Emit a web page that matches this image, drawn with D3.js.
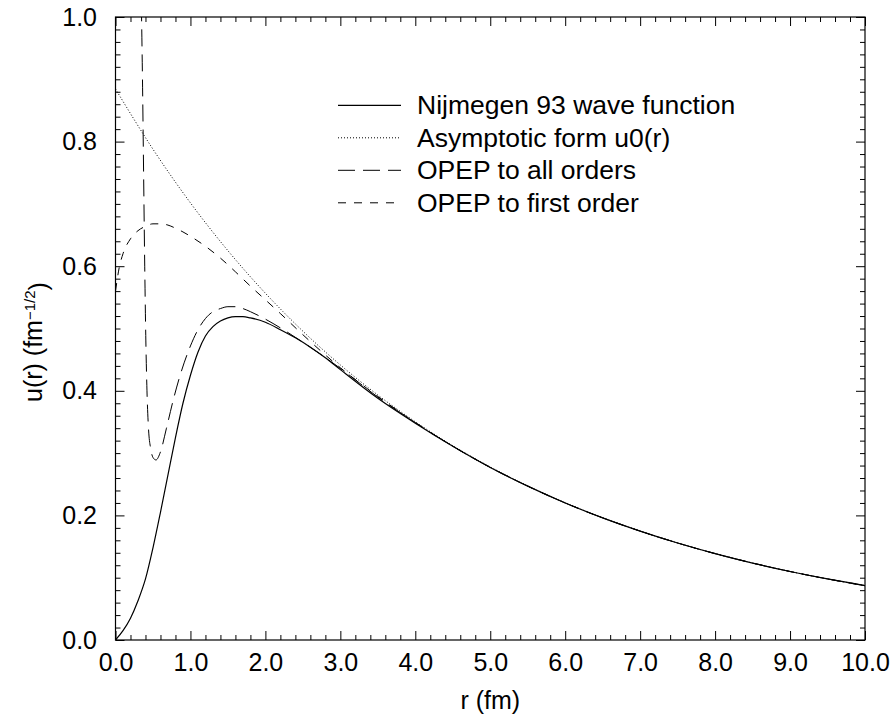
<!DOCTYPE html>
<html>
<head>
<meta charset="utf-8">
<script src="https://cdn.jsdelivr.net/npm/d3@7"></script>
<style>
  html, body { margin: 0; padding: 0; background: #fff; }
  svg { display: block; }
  text { font-family: "Liberation Sans", Arial, Helvetica, sans-serif; fill: #000; }
</style>
</head>
<body>
<svg id="chart" width="895" height="717"></svg>
<script>
// ---- data ----
const nijmegenR = [0,0.1,0.2,0.3,0.4,0.5,0.6,0.7,0.8,0.9,1.0,1.1,1.2,1.3,1.4,1.5,1.6,1.7,1.8,2.0,2.2,2.4,2.6,2.8,3.0,3.5,4.0,4.5,5.0,5.5,6.0,6.5,7.0,7.5,8.0,8.5,9.0,9.5,10.0];
const nijmegenU = [0,0.015,0.035,0.063,0.098,0.148,0.205,0.265,0.325,0.38,0.425,0.462,0.488,0.503,0.512,0.517,0.519,0.519,0.517,0.510,0.498,0.485,0.470,0.453,0.434,0.388,0.348,0.311,0.277,0.247,0.220,0.196,0.1748,0.1557,0.1387,0.1235,0.1100,0.098,0.0873];

const asymR = [0,0.5,1.0,1.5,2.0,2.5,3.0,3.5,4.0,4.5,5.0,5.5,6.0,6.5,7.0,7.5,8.0,8.5,9.0,9.5,10.0];
const asymU = [0.8845,0.7878,0.7016,0.6249,0.5566,0.4957,0.4415,0.3932,0.3503,0.3119,0.2778,0.2474,0.2204,0.1963,0.1748,0.1557,0.1387,0.1235,0.1100,0.0980,0.0873];

const allOrdersR = [0.345,0.36,0.375,0.39,0.405,0.42,0.44,0.47,0.50,0.54,0.60,0.68,0.77,0.85,1.0,1.1,1.2,1.3,1.4,1.5,1.6,1.7,1.8,2.0,2.2,2.5,3.0,3.5,4.0,4.5,5.0,5.5,6.0,6.5,7.0,7.5,8.0,8.5,9.0,9.5,10.0];
const allOrdersU = [1.02,0.9,0.75,0.6,0.48,0.4,0.34,0.307,0.293,0.289,0.302,0.34,0.385,0.42,0.472,0.498,0.516,0.527,0.532,0.535,0.535,0.532,0.527,0.515,0.501,0.478,0.436,0.390,0.349,0.311,0.277,0.247,0.220,0.196,0.1748,0.1557,0.1387,0.1235,0.1100,0.098,0.0873];

const firstOrderR = [0,0.05,0.1,0.2,0.3,0.4,0.5,0.6,0.7,0.8,0.9,1.0,1.2,1.4,1.6,1.8,2.0,2.2,2.5,3.0,3.5,4.0,4.5,5.0,5.5,6.0,6.5,7.0,7.5,8.0,8.5,9.0,9.5,10.0];
const firstOrderU = [0.56,0.598,0.62,0.644,0.657,0.664,0.668,0.668,0.666,0.661,0.655,0.648,0.632,0.613,0.591,0.568,0.546,0.524,0.490,0.437,0.391,0.349,0.311,0.277,0.247,0.220,0.196,0.1748,0.1557,0.1387,0.1235,0.1100,0.098,0.0873];

const seriesNames = ["Nijmegen 93 wave function","Asymptotic form u0(r)","OPEP to all orders","OPEP to first order"];
const xMajorTicks = [0,1,2,3,4,5,6,7,8,9,10];
const yMajorTicks = [0,0.2,0.4,0.6,0.8,1.0];
const xMinorStep = 0.2;
const yMinorStep = 0.02;
const xLabel = "r (fm)";

// ---- layout ----
const svg = d3.select("#chart");
const L = 115.5, R = 865, T = 17, B = 640;
const x = d3.scaleLinear().domain([0,10]).range([L,R]);
const y = d3.scaleLinear().domain([0,1]).range([B,T]);

const xMinor = d3.range(0, 10.0001, xMinorStep).map(v => +v.toFixed(2)).filter(v => !xMajorTicks.includes(v));
const yMinor = d3.range(0, 1.0001, yMinorStep).map(v => +v.toFixed(3)).filter(v => !yMajorTicks.some(m => Math.abs(m - v) < 1e-6));

const fs = 25;
const legendFs = 26.5;
function styleAxis(g) {
  g.select(".domain").remove();
  g.selectAll(".tick line").attr("stroke", "#000").attr("stroke-width", 1);
  g.selectAll(".tick text").attr("font-size", fs + "px").attr("font-family", "Liberation Sans, Arial, sans-serif").attr("fill", "#000");
}

// major ticks with labels
svg.append("g").attr("transform", `translate(0,${B})`)
  .call(d3.axisBottom(x).tickValues(xMajorTicks).tickSize(-9).tickPadding(13).tickFormat(d3.format(".1f")))
  .call(styleAxis);
svg.append("g").attr("transform", `translate(${L},0)`)
  .call(d3.axisLeft(y).tickValues(yMajorTicks).tickSize(-9).tickPadding(18.5).tickFormat(d3.format(".1f")))
  .call(styleAxis);
// top / right major ticks
svg.append("g").attr("transform", `translate(0,${T})`)
  .call(d3.axisTop(x).tickValues(xMajorTicks).tickSize(-9).tickFormat(""))
  .call(styleAxis);
svg.append("g").attr("transform", `translate(${R},0)`)
  .call(d3.axisRight(y).tickValues(yMajorTicks).tickSize(-9).tickFormat(""))
  .call(styleAxis);
// minor ticks
svg.append("g").attr("transform", `translate(0,${B})`)
  .call(d3.axisBottom(x).tickValues(xMinor).tickSize(-5).tickFormat("")).call(styleAxis);
svg.append("g").attr("transform", `translate(0,${T})`)
  .call(d3.axisTop(x).tickValues(xMinor).tickSize(-5).tickFormat("")).call(styleAxis);
svg.append("g").attr("transform", `translate(${L},0)`)
  .call(d3.axisLeft(y).tickValues(yMinor).tickSize(-5).tickFormat("")).call(styleAxis);
svg.append("g").attr("transform", `translate(${R},0)`)
  .call(d3.axisRight(y).tickValues(yMinor).tickSize(-5).tickFormat("")).call(styleAxis);

// frame
svg.append("rect").attr("x", L).attr("y", T).attr("width", R - L).attr("height", B - T)
  .attr("fill", "none").attr("stroke", "#000").attr("stroke-width", 1.2);

// clip
svg.append("clipPath").attr("id", "plotclip").append("rect")
  .attr("x", L).attr("y", T).attr("width", R - L).attr("height", B - T);

const line = d3.line().x(d => x(d[0])).y(d => y(d[1])).curve(d3.curveMonotoneX);
const zip = (a, b) => a.map((v, i) => [v, b[i]]);

const series = [
  { name: seriesNames[0], data: zip(nijmegenR, nijmegenU), dash: null, w: 1.2 },
  { name: seriesNames[1], data: zip(asymR, asymU), dash: "1,2", w: 1 },
  { name: seriesNames[2], data: zip(allOrdersR, allOrdersU), dash: "17,8", w: 1 },
  { name: seriesNames[3], data: zip(firstOrderR, firstOrderU), dash: "8,8", w: 1 }
];

const plot = svg.append("g").attr("clip-path", "url(#plotclip)");
series.forEach(s => {
  plot.append("path").datum(s.data)
    .attr("d", line).attr("fill", "none").attr("stroke", "#000")
    .attr("stroke-width", s.w).attr("stroke-dasharray", s.dash);
});

// legend
const leg = svg.append("g");
series.forEach((s, i) => {
  const by = 114.3 + i * 32.5;
  leg.append("line").attr("x1", 338).attr("x2", 401).attr("y1", by - 9).attr("y2", by - 9)
    .attr("stroke", "#000").attr("stroke-width", s.w).attr("stroke-dasharray", s.dash);
  leg.append("text").attr("x", 417).attr("y", by).attr("font-size", legendFs + "px").text(s.name);
});

// axis titles
svg.append("text").attr("x", (L + R) / 2).attr("y", 709).attr("text-anchor", "middle")
  .attr("font-size", fs + "px").text(xLabel);

const yt = svg.append("text").attr("transform", `translate(42,402) rotate(-90)`)
  .attr("text-anchor", "start").attr("font-size", fs + "px");
yt.append("tspan").text("u(r) (fm");
yt.append("tspan").attr("dy", "-0.5em").attr("font-size", "15px").text("\u22121/2");
yt.append("tspan").attr("dy", "0.5em").text(")");
</script>
</body>
</html>
